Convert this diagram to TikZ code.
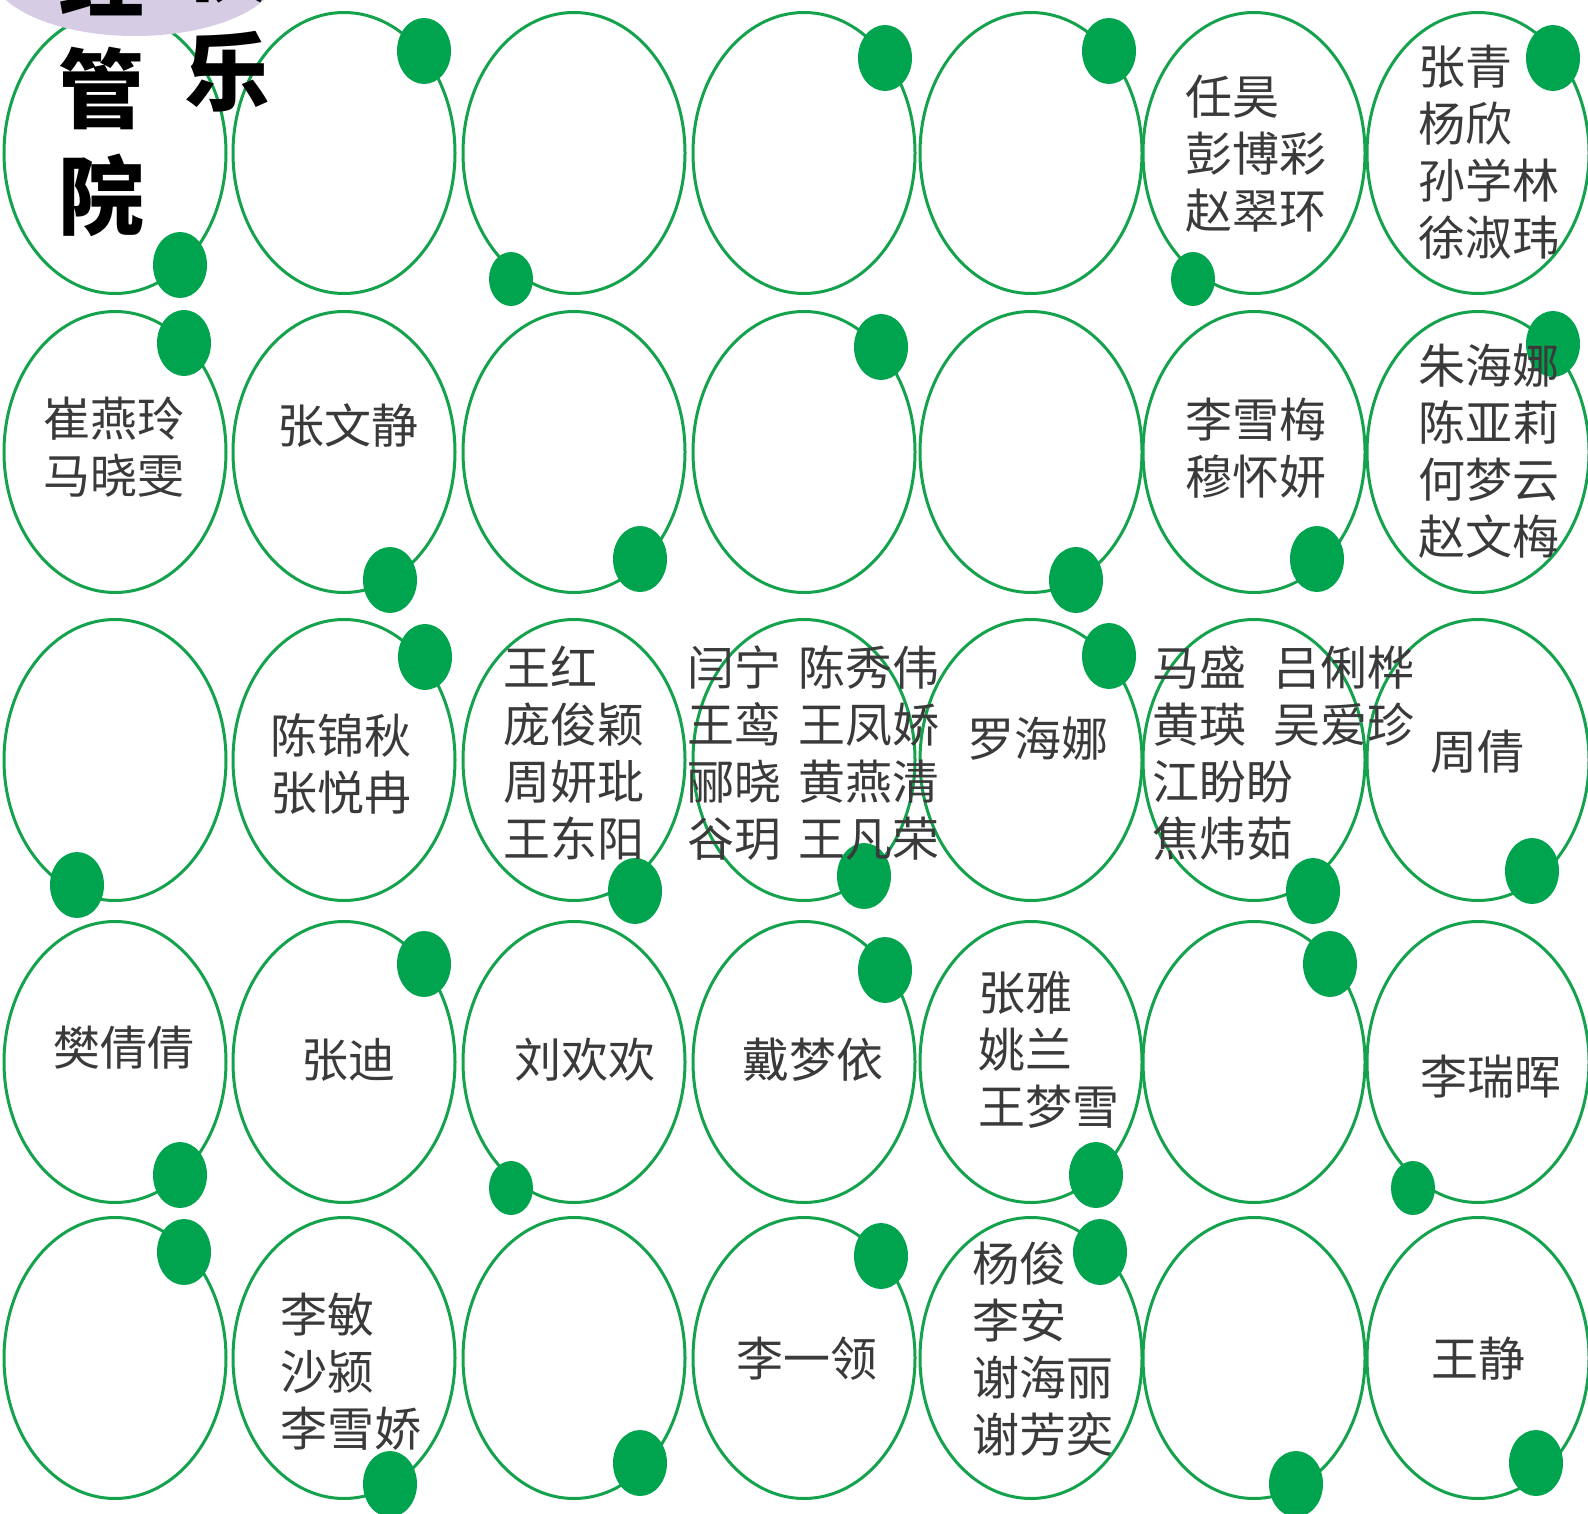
\documentclass[tikz,border=0pt]{standalone}
\usepackage{fontspec}
\newfontfamily\cjk{Noto Sans CJK SC}
\usetikzlibrary{shapes.geometric}
\definecolor{ringc}{RGB}{20,162,76}
\definecolor{dotg}{RGB}{0,164,78}
\definecolor{txt}{RGB}{58,58,58}
\definecolor{lav}{RGB}{214,204,228}
\tikzset{
  ring/.style={ellipse, draw=ringc, line width=3pt, minimum width=222pt, minimum height=281pt, inner sep=0pt},
  bigdot/.style={ellipse, fill=dotg, minimum width=54pt, minimum height=66pt, inner sep=0pt},
  smalldot/.style={ellipse, fill=dotg, minimum width=44pt, minimum height=54pt, inner sep=0pt},
  names/.style={font=\cjk\fontsize{47pt}{57pt}\selectfont, text=txt, align=left, inner sep=0pt, anchor=west},
  brush/.style={font=\cjk\bfseries\fontsize{86pt}{100pt}\selectfont, text=black, inner sep=0pt}
}
\begin{document}
\begin{tikzpicture}[x=1pt,y=-1pt]
\useasboundingbox (0,0) rectangle (1588,1514);
\fill[white] (0,0) rectangle (1588,1514);
% rings
\foreach \r/\y in {1/153,2/452,3/760,4/1062,5/1358}{
  \foreach \c/\x in {1/115,2/344,3/574,4/804,5/1031,6/1254,7/1478}{
    \node[ring] (e-\r-\c) at (\x,\y) {};
  }
}
% dots
\foreach \n/\x/\y in {1-1/180/265, 1-2/424/51, 1-4/885/58, 1-5/1109/51, 1-7/1553/58,
  2-1/184/343, 2-2/390/580, 2-3/640/559, 2-4/881/347, 2-5/1076/580, 2-6/1317/559, 2-7/1553/344,
  3-1/77/885, 3-2/425/657, 3-3/635/891, 3-4/864/876, 3-5/1109/656, 3-6/1313/891, 3-7/1532/871,
  4-1/180/1175, 4-2/424/964, 4-4/885/970, 4-5/1096/1175, 4-6/1330/964,
  5-1/184/1252, 5-2/390/1484, 5-3/640/1463, 5-4/881/1256, 5-5/1100/1252, 5-6/1296/1484, 5-7/1536/1463}{
  \node[bigdot] (d-\n) at (\x,\y) {};
}
\foreach \n/\x/\y in {1-3/511/279, 1-6/1193/279, 4-3/511/1188, 4-7/1413/1188}{
  \node[smalldot] (d-\n) at (\x,\y) {};
}
% title blob
\node[ellipse, fill=lav, minimum width=290pt, minimum height=132pt, inner sep=0pt] (title-bg) at (135,-30) {};
\node[brush] (t-a) at (101,-24) {经};
\node[brush] (t-b) at (101,88) {管};
\node[brush] (t-c) at (101,195) {院};
\node[brush] (t-d) at (227,-38) {快};
\node[brush] (t-e) at (227,72) {乐};
% names
\node[names] (n-1-6) at (1185,154) {任昊\\彭博彩\\赵翠环};
\node[names] (n-1-7) at (1418,152) {张青\\杨欣\\孙学林\\徐淑玮};
\node[names] (n-2-1) at (43,447) {崔燕玲\\马晓雯};
\node[names] (n-2-2) at (277,426) {张文静};
\node[names] (n-2-6) at (1185,448) {李雪梅\\穆怀妍};
\node[names] (n-2-7) at (1418,451) {朱海娜\\陈亚莉\\何梦云\\赵文梅};
\node[names] (n-3-2) at (270,764) {陈锦秋\\张悦冉};
\node[names] (n-3-3) at (503,753) {王红\\庞俊颖\\周妍玭\\王东阳};
\node[names] (n-3-4a) at (687,753) {闫宁\\王鸾\\郦晓\\谷玥};
\node[names] (n-3-4b) at (798,753) {陈秀伟\\王凤娇\\黄燕清\\王凡荣};
\node[names] (n-3-5) at (967,739) {罗海娜};
\node[names] (n-3-6a) at (1152,753) {马盛\\黄瑛\\江盼盼\\焦炜茹};
\node[names] (n-3-6b) at (1273,696) {吕俐桦\\吴爱珍};
\node[names] (n-3-7) at (1430,752) {周倩};
\node[names] (n-4-1) at (53,1048) {樊倩倩};
\node[names] (n-4-2) at (301,1060) {张迪};
\node[names] (n-4-3) at (514,1060) {刘欢欢};
\node[names] (n-4-4) at (742,1060) {戴梦依};
\node[names] (n-4-5) at (978,1050) {张雅\\姚兰\\王梦雪};
\node[names] (n-4-7) at (1420,1077) {李瑞晖};
\node[names] (n-5-2) at (280,1372) {李敏\\沙颍\\李雪娇};
\node[names] (n-5-4) at (736,1359) {李一领};
\node[names] (n-5-5) at (972,1349) {杨俊\\李安\\谢海丽\\谢芳奕};
\node[names] (n-5-7) at (1431,1359) {王静};
\end{tikzpicture}
\end{document}
